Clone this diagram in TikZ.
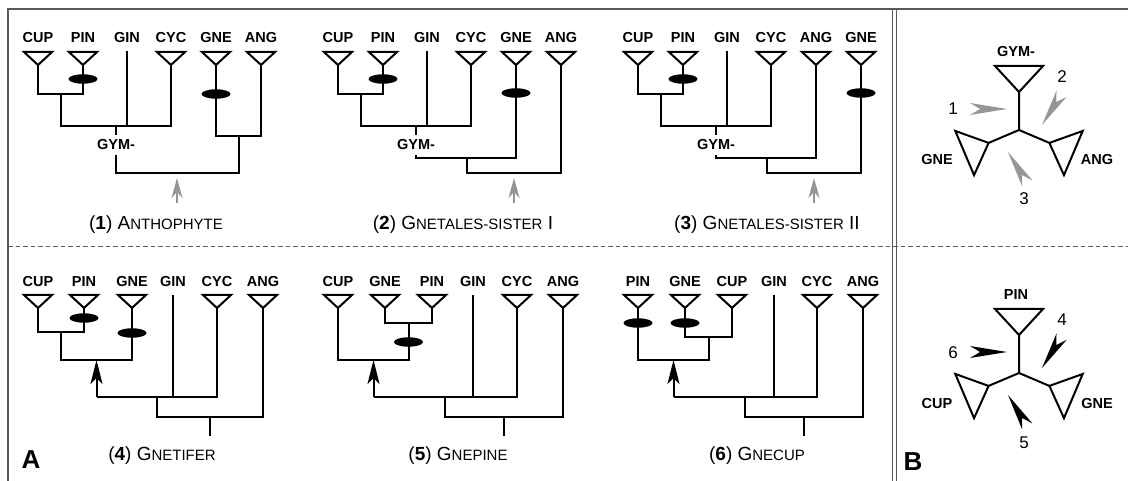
\documentclass[tikz,border=0pt]{standalone}
\usepackage{fontspec}
\setmainfont{Liberation Sans}
\definecolor{FrameGray}{RGB}{90,90,90}
\definecolor{RootGray}{RGB}{150,150,150}
\usepackage{tikz}
\usetikzlibrary{arrows.meta, shapes.geometric}
\newcommand{\smcap}[1]{{\fontsize{15}{15}\selectfont #1}}

\begin{document}
\begin{tikzpicture}[x=1pt, y=-1pt,
	branch/.style={line width=2pt},
	frame/.style={FrameGray, line width=1.5pt},
	taxon/.style={font=\bfseries\fontsize{14.5}{14.5}\selectfont, inner sep=0pt, anchor=base},
	gymlabel/.style={taxon, fill=white, inner xsep=1pt, inner ysep=5pt},
	caption/.style={font=\fontsize{19}{19}\selectfont, inner sep=0pt, anchor=base},
	number/.style={font=\fontsize{17}{17}\selectfont, inner sep=0pt, anchor=base},
	panel/.style={font=\bfseries\fontsize{26}{26}\selectfont, inner sep=0pt, anchor=base},
	marker/.style={ellipse, fill=black, minimum width=29pt, minimum height=9.5pt, inner sep=0pt},
	root arrow/.style={RootGray, line width=1.6pt, -{Stealth[length=20pt, width=11pt, inset=6pt]}},
	shift arrow/.style={line width=2pt, -{Stealth[length=24pt, width=12pt, inset=6pt]}},
	pics/clade/.style={code={\draw[branch] (-14,-13) -- (14,-13) -- (0,0) -- cycle;}},
	pics/bigclade/.style={code={\draw[branch] (-24,-26) -- (24,-26) -- (0,0) -- cycle;}},
	pics/dart/.style={code={\fill (0,0) -- (-37,-6) -- (-27,0) -- (-37,6) -- cycle;}}]
	\useasboundingbox (0,0) rectangle (1128,481);

	% frame of panels A and B
	\coordinate (fa) at (8,481);
	\coordinate (fb) at (8,9);
	\coordinate (fc) at (1128,9);
	\draw[frame] (fa) -- (fb) -- (fc);
	\draw[frame] (892.5,9) -- (892.5,481);
	\draw[frame] (896.5,9) -- (896.5,481);
	\draw[FrameGray, line width=1pt, dash pattern=on 4.5pt off 3pt] (8,246.5) -- (1128,246.5);

	% (1) anthophyte
	\node[taxon] (cup1) at (38,43) {CUP};
	\node[taxon] (pin1) at (83,43) {PIN};
	\node[taxon] (gin1) at (127,43) {GIN};
	\node[taxon] (cyc1) at (171,43) {CYC};
	\node[taxon] (gne1) at (216,43) {GNE};
	\node[taxon] (ang1) at (261,43) {ANG};
	\coordinate (cup1a) at (38,65);
	\coordinate (pin1a) at (83,65);
	\coordinate (gin1a) at (127,51);
	\coordinate (cyc1a) at (171,65);
	\coordinate (gne1a) at (216,65);
	\coordinate (ang1a) at (261,65);
	\foreach \t in {cup1a,pin1a,cyc1a,gne1a,ang1a} \pic at (\t) {clade};
	\coordinate (j1a) at (60.5,94);
	\coordinate (gym1) at (116,126);
	\coordinate (j1b) at (238.5,136);
	\coordinate (root1) at (177,173);
	\coordinate (arr1) at (177,203);
	\draw[branch] (cup1a) |- (j1a) -| (pin1a);
	\draw[branch] (j1a) |- (gym1) -| (cyc1a);
	\draw[branch] (gin1a) -- (gin1a |- gym1);
	\draw[branch] (gne1a) |- (j1b) -| (ang1a);
	\draw[branch] (gym1) |- (root1) -| (j1b);
	\node[gymlabel] (gymlab1) at (116,150) {GYM-};
	\node[marker] (m1a) at (83,79) {};
	\node[marker] (m1b) at (216,94) {};
	\draw[root arrow, shorten >=5pt] (arr1) -- (root1);
	\node[caption] (cap1) at (156,230) {(\textbf{1}) A\smcap{NTHOPHYTE}};

	% (2) gnetales-sister I
	\begin{scope}[shift={(300,0)}]
		\node[taxon] (cup2) at (38,43) {CUP};
		\node[taxon] (pin2) at (83,43) {PIN};
		\node[taxon] (gin2) at (127,43) {GIN};
		\node[taxon] (cyc2) at (171,43) {CYC};
		\node[taxon] (gne2) at (216,43) {GNE};
		\node[taxon] (ang2) at (261,43) {ANG};
		\coordinate (cup2a) at (38,65);
		\coordinate (pin2a) at (83,65);
		\coordinate (gin2a) at (127,51);
		\coordinate (cyc2a) at (171,65);
		\coordinate (gne2a) at (216,65);
		\coordinate (ang2a) at (261,65);
		\foreach \t in {cup2a,pin2a,cyc2a,gne2a,ang2a} \pic at (\t) {clade};
		\coordinate (j2a) at (60.5,94);
		\coordinate (gym2) at (116,126);
		\coordinate (j2b) at (167,158);
		\coordinate (root2) at (214,173);
		\coordinate (arr2) at (214,203);
		\draw[branch] (cup2a) |- (j2a) -| (pin2a);
		\draw[branch] (j2a) |- (gym2) -| (cyc2a);
		\draw[branch] (gin2a) -- (gin2a |- gym2);
		\draw[branch] (gym2) |- (j2b) -| (gne2a);
		\draw[branch] (j2b) |- (root2) -| (ang2a);
		\node[gymlabel] (gymlab2) at (116,150) {GYM-};
		\node[marker] (m2a) at (83,79) {};
		\node[marker] (m2b) at (216,93) {};
		\draw[root arrow, shorten >=5pt] (arr2) -- (root2);
		\node[caption] (cap2) at (163,230) {(\textbf{2}) G\smcap{NETALES-SISTER} I};
	\end{scope}

	% (3) gnetales-sister II
	\begin{scope}[shift={(600,0)}]
		\node[taxon] (cup3) at (38,43) {CUP};
		\node[taxon] (pin3) at (83,43) {PIN};
		\node[taxon] (gin3) at (127,43) {GIN};
		\node[taxon] (cyc3) at (171,43) {CYC};
		\node[taxon] (ang3) at (216,43) {ANG};
		\node[taxon] (gne3) at (261,43) {GNE};
		\coordinate (cup3a) at (38,65);
		\coordinate (pin3a) at (83,65);
		\coordinate (gin3a) at (127,51);
		\coordinate (cyc3a) at (171,65);
		\coordinate (ang3a) at (216,65);
		\coordinate (gne3a) at (261,65);
		\foreach \t in {cup3a,pin3a,cyc3a,ang3a,gne3a} \pic at (\t) {clade};
		\coordinate (j3a) at (60.5,94);
		\coordinate (gym3) at (116,126);
		\coordinate (j3b) at (167,158);
		\coordinate (root3) at (214,173);
		\coordinate (arr3) at (214,203);
		\draw[branch] (cup3a) |- (j3a) -| (pin3a);
		\draw[branch] (j3a) |- (gym3) -| (cyc3a);
		\draw[branch] (gin3a) -- (gin3a |- gym3);
		\draw[branch] (gym3) |- (j3b) -| (ang3a);
		\draw[branch] (j3b) |- (root3) -| (gne3a);
		\node[gymlabel] (gymlab3) at (116,150) {GYM-};
		\node[marker] (m3a) at (83,79) {};
		\node[marker] (m3b) at (261,93) {};
		\draw[root arrow, shorten >=5pt] (arr3) -- (root3);
		\node[caption] (cap3) at (167,230) {(\textbf{3}) G\smcap{NETALES-SISTER} II};
	\end{scope}

	% (4) gnetifer
	\node[taxon] (cup4) at (38,287) {CUP};
	\node[taxon] (pin4) at (84,287) {PIN};
	\node[taxon] (gne4) at (132,287) {GNE};
	\node[taxon] (gin4) at (173,287) {GIN};
	\node[taxon] (cyc4) at (217,287) {CYC};
	\node[taxon] (ang4) at (263,287) {ANG};
	\coordinate (cup4a) at (38,308);
	\coordinate (pin4a) at (84,308);
	\coordinate (gne4a) at (132,308);
	\coordinate (gin4a) at (173,295);
	\coordinate (cyc4a) at (217,308);
	\coordinate (ang4a) at (263,308);
	\foreach \t in {cup4a,pin4a,gne4a,cyc4a,ang4a} \pic at (\t) {clade};
	\coordinate (j4a) at (61,332);
	\coordinate (j4b) at (96.5,360);
	\coordinate (j4c) at (157,397);
	\coordinate (root4) at (210,417);
	\coordinate (base4) at (210,436);
	\draw[branch] (cup4a) |- (j4a) -| (pin4a);
	\draw[branch] (j4a) |- (j4b) -| (gne4a);
	\draw[branch] (j4b |- j4c) -| (cyc4a);
	\draw[branch] (gin4a) -- (gin4a |- j4c);
	\draw[branch] (j4c) |- (root4) -| (ang4a);
	\draw[branch] (root4) -- (base4);
	\draw[shift arrow] (j4b |- j4c) -- (j4b);
	\node[marker] (m4a) at (84,318) {};
	\node[marker] (m4b) at (132,333) {};
	\node[caption] (cap4) at (162,460) {(\textbf{4}) G\smcap{NETIFER}};

	% (5) gnepine
	\begin{scope}[shift={(300,0)}]
		\node[taxon] (cup5) at (38,287) {CUP};
		\node[taxon] (gne5) at (85,287) {GNE};
		\node[taxon] (pin5) at (132,287) {PIN};
		\node[taxon] (gin5) at (173,287) {GIN};
		\node[taxon] (cyc5) at (217,287) {CYC};
		\node[taxon] (ang5) at (263,287) {ANG};
		\coordinate (cup5a) at (38,308);
		\coordinate (gne5a) at (85,308);
		\coordinate (pin5a) at (132,308);
		\coordinate (gin5a) at (173,295);
		\coordinate (cyc5a) at (217,308);
		\coordinate (ang5a) at (263,308);
		\foreach \t in {cup5a,gne5a,pin5a,cyc5a,ang5a} \pic at (\t) {clade};
		\coordinate (j5a) at (108.5,323);
		\coordinate (j5b) at (73.5,360);
		\coordinate (j5c) at (145,397);
		\coordinate (root5) at (204,417);
		\coordinate (base5) at (204,436);
		\draw[branch] (gne5a) |- (j5a) -| (pin5a);
		\draw[branch] (cup5a) |- (j5b) -| (j5a);
		\draw[branch] (j5b |- j5c) -| (cyc5a);
		\draw[branch] (gin5a) -- (gin5a |- j5c);
		\draw[branch] (j5c) |- (root5) -| (ang5a);
		\draw[branch] (root5) -- (base5);
		\draw[shift arrow] (j5b |- j5c) -- (j5b);
		\node[marker] (m5a) at (108.5,342) {};
		\node[caption] (cap5) at (158,460) {(\textbf{5}) G\smcap{NEPINE}};
	\end{scope}

	% (6) gnecup
	\begin{scope}[shift={(600,0)}]
		\node[taxon] (pin6) at (38,287) {PIN};
		\node[taxon] (gne6) at (85,287) {GNE};
		\node[taxon] (cup6) at (132,287) {CUP};
		\node[taxon] (gin6) at (174,287) {GIN};
		\node[taxon] (cyc6) at (217,287) {CYC};
		\node[taxon] (ang6) at (263,287) {ANG};
		\coordinate (pin6a) at (38,308);
		\coordinate (gne6a) at (85,308);
		\coordinate (cup6a) at (132,308);
		\coordinate (gin6a) at (174,295);
		\coordinate (cyc6a) at (217,308);
		\coordinate (ang6a) at (263,308);
		\foreach \t in {pin6a,gne6a,cup6a,cyc6a,ang6a} \pic at (\t) {clade};
		\coordinate (j6a) at (108.5,337);
		\coordinate (j6b) at (73.5,360);
		\coordinate (j6c) at (145,397);
		\coordinate (root6) at (204,417);
		\coordinate (base6) at (204,436);
		\draw[branch] (gne6a) |- (j6a) -| (cup6a);
		\draw[branch] (pin6a) |- (j6b) -| (j6a);
		\draw[branch] (j6b |- j6c) -| (cyc6a);
		\draw[branch] (gin6a) -- (gin6a |- j6c);
		\draw[branch] (j6c) |- (root6) -| (ang6a);
		\draw[branch] (root6) -- (base6);
		\draw[shift arrow] (j6b |- j6c) -- (j6b);
		\node[marker] (m6a) at (38,323) {};
		\node[marker] (m6b) at (85,323) {};
		\node[caption] (cap6) at (157,460) {(\textbf{6}) G\smcap{NECUP}};
	\end{scope}

	\node[panel] (lbA) at (31,468) {A};

	% panel B, unrooted trees
	\foreach \s/\top/\lft/\rgt/\dcol/\na/\nb/\nc in
		{0/GYM-/GNE/ANG/RootGray/1/2/3, 243/PIN/CUP/GNE/black/6/4/5} {
		\begin{scope}[shift={(0,\s)}]
			\coordinate (c\nb) at (1019,130);
			\coordinate (u\nb) at (1019,92);
			\coordinate (l\nb) at (988.6,142.9);
			\coordinate (r\nb) at (1049.4,142.9);
			\draw[branch] (u\nb) -- (c\nb) -- (l\nb) (c\nb) -- (r\nb);
			\pic at (u\nb) {bigclade};
			\pic[rotate=113] at (l\nb) {bigclade};
			\pic[rotate=-113] at (r\nb) {bigclade};
			\node[taxon] (tu\nb) at (1016,57) {\top};
			\node[taxon] (tl\nb) at (937,165) {\lft};
			\node[taxon] (tr\nb) at (1097,165) {\rgt};
			\coordinate (da\nb) at (1007,109);
			\coordinate (db\nb) at (1042,125);
			\coordinate (dc\nb) at (1008,152);
			\pic[\dcol] at (da\nb) {dart};
			\pic[\dcol, rotate=-122] at (db\nb) {dart};
			\pic[\dcol, rotate=121.5] at (dc\nb) {dart};
			\node[number] (na\nb) at (953,115) {\na};
			\node[number] (nb\nb) at (1062,83) {\nb};
			\node[number] (nc\nb) at (1024,205) {\nc};
		\end{scope}
	}

	\node[panel] (lbB) at (913,470) {B};
\end{tikzpicture}
\end{document}
